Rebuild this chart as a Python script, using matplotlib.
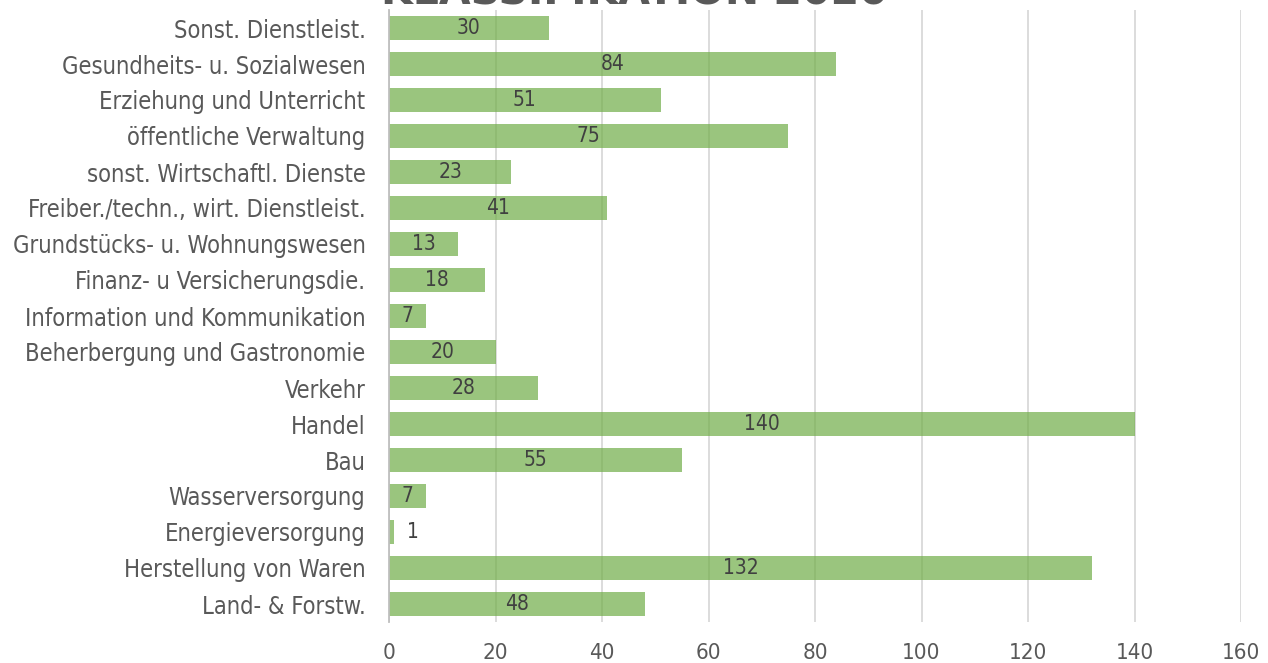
import matplotlib
matplotlib.use("Agg")
import matplotlib.pyplot as plt

categories = [
    "Land- & Forstw.",
    "Herstellung von Waren",
    "Energieversorgung",
    "Wasserversorgung",
    "Bau",
    "Handel",
    "Verkehr",
    "Beherbergung und Gastronomie",
    "Information und Kommunikation",
    "Finanz- u Versicherungsdie.",
    "Grundstücks- u. Wohnungswesen",
    "Freiber./techn., wirt. Dienstleist.",
    "sonst. Wirtschaftl. Dienste",
    "öffentliche Verwaltung",
    "Erziehung und Unterricht",
    "Gesundheits- u. Sozialwesen",
    "Sonst. Dienstleist.",
]
values = [48, 132, 1, 7, 55, 140, 28, 20, 7, 18, 13, 41, 23, 75, 51, 84, 30]
xticks = [0, 20, 40, 60, 80, 100, 120, 140, 160]
title = "KLASSIFIKATION 2020"

plt.rcParams['font.family'] = ['DejaVu Sans']
W, H = 1268, 663
fig = plt.figure(figsize=(W / 100, H / 100), dpi=100)
ax = fig.add_axes([389 / W, 1 - 622 / H, (1241 - 389) / W, (622 - 10) / H])

y = list(range(len(categories)))
ax.barh(y, values, height=0.67, color="#70AD47", alpha=0.7, zorder=2)
ax.set_xlim(0, 160)
ax.set_ylim(-0.5, len(categories) - 0.5)
ax.set_xticks(xticks)
ax.set_xticklabels([str(t) for t in xticks], fontsize=16, color="#595959",
                   fontstretch="condensed", fontweight="medium")
ax.set_yticks(y)
ax.set_yticklabels(categories, fontsize=17, color="#595959",
                   fontstretch="condensed")
ax.tick_params(axis="both", length=0)
ax.tick_params(axis="y", pad=17)
ax.tick_params(axis="x", pad=15)
ax.xaxis.grid(True, color="#D9D9D9", linewidth=1.3, zorder=0)
ax.set_axisbelow(True)
for s in ["top", "right", "bottom"]:
    ax.spines[s].set_visible(False)
ax.spines["left"].set_color("#BFBFBF")
ax.spines["left"].set_linewidth(1.3)

for yi, v in zip(y, values):
    if v < 5:
        ax.text(v + 2.3, yi, str(v), ha="left", va="center", fontsize=15,
                color="#404040", fontstretch="condensed", zorder=3)
    else:
        ax.text(v / 2, yi, str(v), ha="center", va="center", fontsize=15,
                color="#404040", fontstretch="condensed", zorder=3)

fig.text(0.5, 0.9925, title, ha="center", va="baseline", fontsize=29.5,
         fontweight="bold", color="#595959")

fig.savefig("out.png", dpi=100)
